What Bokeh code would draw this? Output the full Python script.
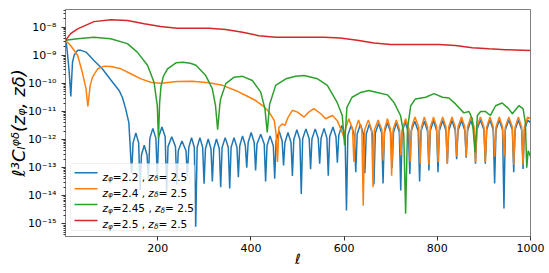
from bokeh.plotting import figure
from bokeh.models import Range1d, FixedTicker, CustomJSTickFormatter, Label, BoxAnnotation
from bokeh.embed import file_html
from bokeh.resources import INLINE

# ---------------- data ----------------
ell_blue = [2, 4, 6.6, 10, 13.4, 17, 20.5, 28, 35, 46, 63, 81, 99, 117, 124, 131, 138, 144,
            147, 153, 159, 162,
            165, 171, 177, 180,
            183, 189.5, 196, 199,
            202, 209, 216, 219,
            222, 230, 238, 241,
            244, 252, 260.6, 263.6,
            266.6, 272.5, 278.5, 281.5,
            284.5, 290.5, 296.4, 299.4,
            302.4, 308.3, 314.2, 317.2,
            320.2, 326, 332.1, 335.1,
            338.1, 344.7, 351.4, 354.4,
            357.4, 363.7, 370, 373,
            376, 382, 388, 391,
            394, 400.5, 407, 410,
            413, 421, 428.5, 431.5,
            434.5, 441, 448, 451,
            454, 460.5, 467, 470,
            473, 479.5, 486, 489,
            492, 498.5, 505, 508,
            511, 518, 525, 528,
            531, 538, 544.5, 547.5,
            550.5, 557, 563, 566,
            569, 576, 582.5, 585.5,
            588.5, 595, 602, 605,
            608, 615, 622, 625,
            628, 635, 641.5, 644.5,
            647.5, 654, 661, 664,
            667, 674, 680.5, 683.5,
            686.5, 693, 700, 703,
            706, 712, 718.5, 721.5,
            724.5, 731, 738, 741,
            744, 751.5, 759, 762,
            765, 772, 779, 782,
            785, 792, 798.5, 801.5,
            804.5, 811.5, 818.5, 821.5,
            824.5, 831.5, 838.5, 841.5,
            844.5, 852, 859, 862,
            865, 872, 879, 882,
            885, 892.5, 900, 903,
            906, 913, 920, 923,
            926, 933, 940, 943,
            946, 953.5, 961, 964,
            967, 974, 981, 984,
            987, 994, 1000]
c_blue = [3.4e-9, 2.5e-9, 1.0e-9, 2.5e-10, 3.4e-11, 5.6e-10, 1.0e-9, 1.5e-9, 1.5e-9, 1.3e-9, 6.5e-10,
          3.3e-10, 1.35e-10, 5.6e-11, 3.2e-11, 1.26e-11, 4.0e-12, 6.3e-14,
          7.6e-13, 1.7e-12, 7.6e-13, 1.6e-14,
          2.8e-13, 6.3e-13, 2.8e-13, 4.0e-14,
          1.1e-12, 2.5e-12, 1.1e-12, 5.0e-14,
          1.26e-12, 2.8e-12, 1.26e-12, 1.0e-14,
          5.6e-13, 1.26e-12, 5.6e-13, 2.5e-14,
          4.0e-13, 8.9e-13, 4.0e-13, 5.0e-14,
          5.2e-13, 1.17e-12, 5.2e-13, 7.9e-16,
          5.2e-13, 1.17e-12, 5.2e-13, 2.7e-14,
          4.7e-13, 1.05e-12, 4.7e-13, 3.2e-14,
          4.7e-13, 1.05e-12, 4.7e-13, 2.0e-14,
          5.2e-13, 1.17e-12, 5.2e-13, 1.8e-14,
          5.2e-13, 1.17e-12, 5.2e-13, 4.6e-14,
          6.0e-13, 1.35e-12, 6.0e-13, 1.0e-13,
          7.9e-13, 1.78e-12, 7.9e-13, 7.9e-14,
          6.9e-13, 1.55e-12, 6.9e-13, 3.2e-14,
          6.0e-13, 1.35e-12, 6.0e-13, 4.0e-14,
          8.9e-13, 2.0e-12, 8.9e-13, 1.2e-13,
          7.9e-13, 1.78e-12, 7.9e-13, 5.0e-14,
          1.0e-12, 2.24e-12, 1.0e-12, 1.15e-14,
          1.07e-12, 2.4e-12, 1.07e-12, 8.7e-14,
          1.07e-12, 2.4e-12, 1.07e-12, 1.38e-13,
          1.12e-12, 2.5e-12, 1.12e-12, 5.2e-14,
          1.26e-12, 2.8e-12, 1.26e-12, 1.5e-13,
          1.41e-12, 3.2e-12, 1.41e-12, 3.0e-15,
          1.41e-12, 3.2e-12, 1.41e-12, 6.9e-14,
          1.58e-12, 3.5e-12, 1.58e-12, 6.3e-14,
          1.58e-12, 3.5e-12, 1.58e-12, 2.5e-14,
          1.7e-12, 3.8e-12, 1.7e-12, 2.7e-14,
          1.78e-12, 4.0e-12, 1.78e-12, 1.0e-13,
          1.78e-12, 4.0e-12, 1.78e-12, 1.55e-14,
          1.86e-12, 4.2e-12, 1.86e-12, 6.0e-14,
          2.0e-12, 4.5e-12, 2.0e-12, 3.2e-14,
          2.0e-12, 4.5e-12, 2.0e-12, 7.9e-14,
          2.1e-12, 4.8e-12, 2.1e-12, 6.9e-14,
          2.1e-12, 4.8e-12, 2.1e-12, 1.38e-13,
          2.1e-12, 4.8e-12, 2.1e-12, 2.0e-13,
          2.1e-12, 4.8e-12, 2.1e-12, 2.24e-13,
          2.1e-12, 4.8e-12, 2.1e-12, 1.38e-13,
          2.24e-12, 5.0e-12, 2.24e-12, 1.38e-13,
          2.24e-12, 5.0e-12, 2.24e-12, 2.7e-14,
          2.24e-12, 5.0e-12, 2.24e-12, 3.5e-15,
          2.24e-12, 5.0e-12, 2.24e-12, 6.9e-14,
          2.24e-12, 5.0e-12, 2.24e-12, 8.9e-14,
          2.24e-12, 5.0e-12, 4.0e-12]

ell_orange = [2, 13, 28, 38, 46, 50, 55, 60, 71, 85, 99, 121, 142, 164, 185, 206, 242, 274, 310,
              339, 367, 389, 410, 425, 439, 450, 454, 457, 460, 467, 473, 480, 489, 500, 514,
              524, 535, 550, 560, 575, 585, 596, 600,
              603, 610, 618, 621,
              624, 631, 638, 641,
              644, 652, 659, 662,
              665, 673, 681, 684,
              687, 693, 699, 702,
              705, 712, 719, 722,
              725, 732, 739, 742,
              745, 752, 760, 763,
              766, 772, 779, 782,
              785, 792, 798.5, 801.5,
              804.5, 811.5, 818.5, 821.5,
              824.5, 831.5, 838.5, 841.5,
              844.5, 852, 859, 862,
              865, 872, 879, 882,
              885, 892.5, 900, 903,
              906, 913, 920, 923,
              926, 933, 940, 943,
              946, 953.5, 961, 964,
              967, 974, 981, 984,
              987, 994, 1000]
c_orange = [3.4e-9, 2.24e-9, 1.0e-9, 2.5e-10, 6.5e-11, 1.5e-11, 8.5e-11, 1.66e-10, 3.3e-10,
            4.1e-10, 4.0e-10, 3.3e-10, 2.2e-10, 1.45e-10, 1.1e-10, 1.02e-10, 1.17e-10, 1.2e-10,
            1.05e-10, 8.5e-11, 5.6e-11, 3.7e-11, 2.45e-11, 1.62e-11, 9.5e-12, 4.8e-12, 1.58e-12,
            1.58e-13, 2.75e-12, 3.6e-12, 3.2e-12, 6.3e-12, 1.1e-11, 9.5e-12, 6.3e-12, 9.5e-12,
            1.26e-11, 8.3e-12, 5.5e-12, 7.2e-12, 4.8e-12, 1.8e-12, 1.12e-12,
            2.45e-12, 5.5e-12, 2.45e-12, 1.58e-13,
            2.24e-12, 5.0e-12, 2.24e-12, 4.4e-15,
            2.24e-12, 5.0e-12, 2.24e-12, 2.0e-14,
            2.24e-12, 5.0e-12, 2.24e-12, 1.8e-13,
            2.45e-12, 5.5e-12, 2.45e-12, 5.2e-14,
            2.24e-12, 5.0e-12, 2.24e-12, 2.75e-13,
            2.45e-12, 5.5e-12, 2.45e-12, 1.58e-13,
            2.8e-12, 6.3e-12, 2.8e-12, 1.38e-13,
            2.8e-12, 6.3e-12, 2.8e-12, 1.26e-13,
            2.8e-12, 6.3e-12, 2.8e-12, 1.58e-13,
            2.8e-12, 6.3e-12, 2.8e-12, 1.38e-13,
            2.8e-12, 6.3e-12, 2.8e-12, 2.5e-13,
            2.8e-12, 6.3e-12, 2.8e-12, 2.5e-13,
            2.8e-12, 6.3e-12, 2.8e-12, 1.58e-13,
            2.8e-12, 6.3e-12, 2.8e-12, 1.58e-13,
            2.8e-12, 6.3e-12, 2.8e-12, 2.5e-13,
            2.8e-12, 6.3e-12, 2.8e-12, 2.5e-13,
            2.8e-12, 6.3e-12, 2.8e-12, 1.26e-13,
            2.8e-12, 6.3e-12, 2.8e-12, 1.26e-13,
            2.8e-12, 6.3e-12, 5.6e-12]

ell_green = [2, 28, 63, 99, 135, 156, 178, 192, 199, 201.5, 204, 207, 212, 221, 239, 254, 270,
             282, 303, 317, 324, 328.5, 333, 335, 346, 364, 382, 403, 421, 430, 435, 440, 453,
             475, 496, 514, 543, 564, 585, 596, 601, 606, 617, 635, 653, 671, 693, 707, 721,
             728, 732, 736, 743, 753, 775, 793, 811, 825, 839, 857, 868, 875, 881, 886, 893,
             903, 914, 925, 939, 953, 961, 975, 984, 989, 992, 995, 1000]
c_green = [3.4e-9, 3.9e-9, 4.4e-9, 3.9e-9, 2.6e-9, 1.3e-9, 4.4e-10, 1.1e-10, 1.6e-11, 1.12e-12,
           2.0e-11, 7.9e-11, 1.78e-10, 3.3e-10, 5.4e-10, 5.6e-10, 5.2e-10, 4.4e-10, 1.9e-10,
           6.5e-11, 1.6e-11, 2.24e-12, 1.58e-11, 2.8e-11, 9.8e-11, 1.66e-10, 1.78e-10, 1.26e-10,
           4.9e-11, 1.26e-11, 1.78e-12, 1.78e-11, 8.5e-11, 1.45e-10, 1.8e-10, 1.9e-10, 1.45e-10,
           8.5e-11, 2.1e-11, 7.2e-12, 6.3e-13, 1.4e-11, 3.2e-11, 4.7e-11, 5.6e-11, 4.7e-11,
           3.9e-11, 2.1e-11, 7.2e-12, 1.58e-12, 2.3e-15, 2.5e-12, 1.6e-11, 2.8e-11, 3.2e-11,
           4.3e-11, 3.2e-11, 3.0e-11, 1.86e-11, 8.9e-12, 1.0e-11, 5.5e-12, 3.5e-13, 7.2e-12,
           1.0e-11, 1.0e-11, 7.2e-12, 1.6e-11, 2.0e-11, 1.26e-11, 8.3e-12, 1.6e-11, 1.26e-11,
           4.0e-12, 1.0e-13, 4.0e-13, 2.5e-13]

ell_red = [2, 13, 28, 63, 99, 135, 171, 206, 242, 310, 346, 382, 417, 453, 492, 557, 592, 628,
           664, 700, 739, 803, 839, 875, 911, 946, 1000]
c_red = [3.4e-9, 5.9e-9, 8.7e-9, 1.58e-8, 1.86e-8, 1.74e-8, 1.32e-8, 1.06e-8, 9.1e-9, 9.1e-9,
         8.3e-9, 6.6e-9, 5.0e-9, 4.4e-9, 4.4e-9, 4.4e-9, 4.1e-9, 3.4e-9, 2.75e-9, 2.4e-9, 2.4e-9,
         2.4e-9, 2.24e-9, 1.86e-9, 1.7e-9, 1.58e-9, 1.48e-9]

z_phi = ["2.2", "2.4", "2.45", "2.5"]
z_delta = ["2.5", "2.5", "2.5", "2.5"]
colors = ["#1f77b4", "#ff7f0e", "#2ca02c", "#d62728"]
x_ticks = [200, 400, 600, 800, 1000]
y_decades = list(range(-15, -7))
y_label = "\u2113\u00b3C\u2097\u1d60\u1d5f(z\u1d69, z\u03b4)"
x_label = "\u2113"

assert len(ell_blue) == len(c_blue)
assert len(ell_orange) == len(c_orange)
assert len(ell_green) == len(c_green)
assert len(ell_red) == len(c_red)

FONT = "DejaVu Sans"

p = figure(width=549, height=273, y_axis_type="log", title=None,
           x_range=Range1d(2, 1000), y_range=Range1d(3.53e-16, 4.27e-8),
           output_backend="svg", toolbar_location=None,
           min_border_left=65, min_border_right=19, min_border_top=9, min_border_bottom=37)
p.xgrid.visible = False
p.ygrid.visible = False
p.background_fill_color = "white"
p.border_fill_color = "white"
p.outline_line_color = "#808080"
p.outline_line_width = 1

for ax in (p.xaxis[0], p.yaxis[0]):
    ax.axis_line_color = "#808080"
    ax.major_tick_in = 0
    ax.major_tick_out = 4
    ax.minor_tick_in = 0
    ax.minor_tick_out = 2
    ax.major_tick_line_color = "#333333"
    ax.minor_tick_line_color = "#333333"
    ax.major_label_text_font = FONT
    ax.major_label_text_font_size = "11px"
    ax.major_label_text_color = "black"
    ax.axis_label_text_font = FONT
    ax.axis_label_text_font_style = "italic"
    ax.axis_label_text_color = "black"

p.xaxis.major_label_standoff = 3
p.yaxis.major_label_standoff = 5
p.xaxis.ticker = FixedTicker(ticks=x_ticks)
p.xaxis.minor_tick_line_color = None
p.xaxis.axis_label = x_label
p.xaxis.axis_label_text_font_size = "14px"
p.xaxis.axis_label_standoff = -4

p.yaxis.axis_label = y_label
p.yaxis.axis_label_text_font_size = "18px"
p.yaxis.axis_label_standoff = -4

y_major = [10.0 ** e for e in y_decades]
y_minor = [m * 10.0 ** e for e in range(-16, -7) for m in range(2, 10)]
p.yaxis.ticker = FixedTicker(ticks=y_major, minor_ticks=y_minor)
p.yaxis.formatter = CustomJSTickFormatter(code="""
const sup = {'-':'\u207b','0':'\u2070','1':'\u00b9','2':'\u00b2','3':'\u00b3','4':'\u2074',
             '5':'\u2075','6':'\u2076','7':'\u2077','8':'\u2078','9':'\u2079'};
const e = Math.round(Math.log10(tick));
return '10' + String(e).split('').map(c => sup[c]).join('');
""")

for xs, ys, col in [(ell_blue, c_blue, colors[0]), (ell_orange, c_orange, colors[1]),
                    (ell_green, c_green, colors[2]), (ell_red, c_red, colors[3])]:
    p.line(xs, ys, line_color=col, line_width=1.5)

# ---------------- legend (drawn inside the frame) ----------------
ADV = {'0': .636, '1': .636, '2': .636, '3': .636, '4': .636, '5': .636, '6': .636, '7': .636,
       '8': .636, '9': .636, '.': .318, ',': .318, ' ': .318, '=': .838,
       'z': .525, '\u03c6': .66, '\u03b4': .612}


def rich(pieces, x0, y0):
    pos = 0.0
    for text, size, italic, shift in pieces:
        p.add_layout(Label(x=x0 + pos, y=y0 + shift, x_units="screen", y_units="screen",
                           text=text, text_font=FONT, text_font_size=f"{size:.1f}px",
                           text_font_style="italic" if italic else "normal",
                           text_color="black", text_align="left",
                           text_baseline="alphabetic"))
        pos += sum(ADV.get(ch, 0.6) for ch in text) * size


p.add_layout(BoxAnnotation(left=5, right=129, bottom=6, top=73,
                           left_units="screen", right_units="screen",
                           bottom_units="screen", top_units="screen",
                           fill_color="white", fill_alpha=0.8,
                           line_color="#cccccc", line_width=1, border_radius=3))
row_y = [63.7, 47.7, 32, 16]
LF = 10.5
for i in range(4):
    yv = row_y[i]
    p.add_layout(BoxAnnotation(left=9, right=32, bottom=yv - 0.75, top=yv + 0.75,
                               left_units="screen", right_units="screen",
                               bottom_units="screen", top_units="screen",
                               fill_color=colors[i], fill_alpha=1, line_alpha=0))
    base = yv - 0.36 * LF
    rich([("z", LF, True, 0),
          ("\u03c6", 0.7 * LF, True, -0.22 * LF),
          ("=" + z_phi[i] + " , ", LF, False, 0),
          ("z", LF, True, 0),
          ("\u03b4", 0.7 * LF, True, -0.22 * LF),
          ("= " + z_delta[i], LF, False, 0)], 37, base)

open("out.html", "w").write(file_html(p, INLINE))
